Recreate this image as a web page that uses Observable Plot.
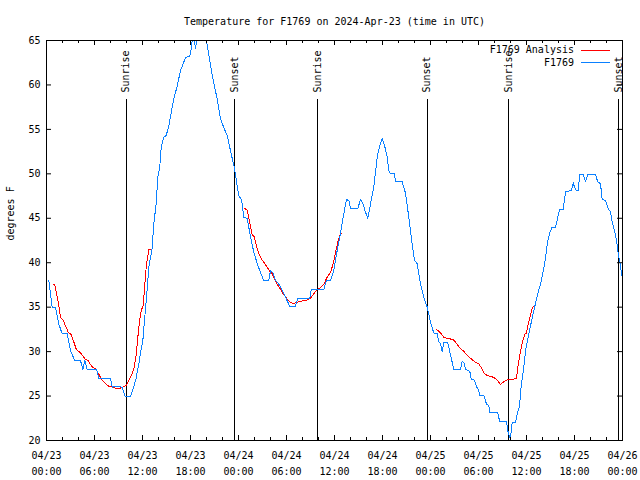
<!DOCTYPE html>
<html><head><meta charset="utf-8">
<script src="https://cdn.jsdelivr.net/npm/d3@7"></script>
<script src="https://cdn.jsdelivr.net/npm/@observablehq/plot@0.6"></script>
<style>
body{margin:0;background:#fff}
#chart{position:relative;width:640px;height:480px}
</style>
</head><body><div id="chart"></div>
<script>
// ---- data ----
const titleText = "Temperature for F1769 on 2024-Apr-23 (time in UTC)";
const yLabel = "degrees F";
const START = "2024-04-23T00:00Z";
const END = "2024-04-26T00:00Z";
// observed station temps: hours since START, degrees F
const obsHours = [0.29,0.71,1.13,1.54,1.96,2.59,3.00,3.54,4.25,4.54,4.79,5.09,6.25,6.54,8.00,8.21,8.84,9.46,9.79,10.50,10.91,11.20,11.54,11.75,12.04,12.25,12.50,12.79,13.00,13.21,13.41,13.71,13.91,14.16,14.34,14.66,14.96,15.29,15.59,15.91,16.34,16.75,17.09,17.38,17.91,18.09,18.25,18.45,18.62,18.85,19.20,19.70,20.00,20.50,20.84,21.34,21.75,22.16,22.59,23.00,23.50,24.04,24.38,24.66,25.09,25.50,25.91,26.34,26.75,27.16,27.79,28.00,28.34,28.62,29.04,29.46,29.88,30.41,31.12,31.41,32.91,33.09,34.66,35.00,35.50,35.91,36.34,36.75,37.16,37.50,37.79,38.00,38.91,39.25,39.59,39.79,40.16,40.50,40.91,41.34,41.66,41.96,42.25,42.59,42.79,43.00,43.50,43.62,44.46,44.88,45.29,45.71,46.00,46.34,46.75,47.16,47.59,48.00,48.41,48.84,49.04,49.25,49.46,49.66,50.16,50.41,50.71,50.91,51.75,51.96,52.16,52.38,52.91,53.09,53.50,53.75,53.91,54.16,54.66,55.00,55.29,55.41,56.41,56.66,57.50,57.66,57.90,58.10,58.20,58.62,58.84,59.12,59.34,59.59,59.88,60.16,60.50,60.84,61.12,61.41,61.75,62.04,62.34,62.59,62.88,63.21,63.62,63.84,64.12,64.59,64.88,65.59,65.84,66.00,66.21,66.46,66.66,67.09,67.38,67.66,68.62,68.91,69.25,69.46,69.88,70.21,70.50,70.71,71.00,71.25,71.41,71.54,71.75,71.88];
const obsTemps = [38.0,35.0,35.0,33.1,32.0,32.0,30.1,29.0,29.0,28.0,29.0,28.0,28.0,27.0,27.0,26.0,26.1,26.0,25.0,25.0,26.0,27.0,28.6,29.9,31.2,33.5,36.1,39.5,40.6,41.6,44.4,46.6,49.6,50.8,53.0,54.1,54.3,55.4,56.9,58.4,59.9,61.6,62.4,63.1,63.2,64.1,65.3,65.3,64.1,65.3,66.0,66.0,65.0,62.2,60.5,58.4,56.2,55.2,54.3,52.6,50.6,47.5,47.1,45.1,45.0,42.9,41.2,39.9,38.9,38.0,38.0,39.1,38.8,38.0,37.6,36.9,36.1,35.1,35.1,36.0,36.0,37.0,37.0,38.0,38.0,39.1,41.4,43.3,45.5,47.1,47.0,46.1,46.1,47.1,46.6,45.9,45.0,46.6,48.5,51.9,53.2,54.0,53.2,51.9,50.4,50.0,50.0,49.1,49.1,47.8,45.1,42.1,40.3,39.9,37.6,36.1,35.0,33.3,32.1,32.0,31.1,30.9,30.0,31.0,31.0,30.0,28.8,28.0,28.0,28.9,28.8,28.0,27.8,26.9,26.8,26.0,25.9,25.1,25.1,24.1,23.9,23.1,23.1,22.1,22.1,21.1,20.3,21.0,22.0,22.0,23.0,23.8,26.2,27.7,30.1,31.4,32.9,34.3,35.4,36.5,37.6,38.8,40.3,42.1,43.3,44.0,44.0,44.8,46.0,46.0,48.0,48.1,49.0,48.5,48.1,48.1,49.9,49.9,49.1,49.9,49.9,49.1,48.9,47.1,47.0,46.1,45.7,44.6,43.6,42.5,41.4,40.6,39.7,38.6];
// analysis temps (null = gap between analysis runs)
const anaHours = [0.79,1.04,1.25,1.54,1.75,2.04,2.38,2.71,3.09,3.41,3.75,4.16,4.46,4.88,5.21,5.50,5.79,6.13,6.46,6.96,7.38,7.79,8.34,8.75,9.25,9.66,10.00,10.29,10.59,10.91,11.21,11.46,11.63,11.84,12.09,12.29,12.50,12.79,13.09,
  null,
  24.79,25.09,25.38,25.71,25.91,26.25,26.54,26.88,27.29,27.59,27.91,28.21,28.54,28.96,29.34,29.66,30.09,30.50,30.91,31.34,31.96,32.59,33.00,33.41,33.84,34.25,34.66,35.09,35.50,35.84,36.13,36.41,36.66,36.88,
  null,
  48.75,49.04,49.34,49.66,50.09,50.59,50.91,51.25,51.66,52.09,52.46,52.79,53.21,53.63,54.04,54.34,54.66,55.09,55.59,56.00,56.41,56.75,57.09,57.50,57.79,58.34,58.75,58.91,59.16,59.46,59.75,60.00,60.21,60.50,60.75,60.91];
const anaTemps = [37.5,37.5,36.5,35.2,33.8,33.6,32.9,32.2,31.9,31.1,30.2,29.95,29.6,29.1,29.0,28.55,28.2,28.1,27.6,26.75,26.4,26.1,26.05,25.8,25.9,26.05,26.2,26.75,27.3,28.0,29.6,32.0,33.5,34.6,35.2,37.6,39.9,41.45,41.45,
  null,
  46.1,45.9,44.6,43.1,43.05,41.9,41.0,40.4,39.9,39.5,39.05,38.75,38.1,37.4,36.9,36.4,35.9,35.55,35.4,35.55,35.7,35.8,36.0,36.5,37.0,37.2,37.55,38.4,38.9,39.9,41.2,42.3,43.1,43.3,
  null,
  32.45,32.3,32.0,31.6,31.5,31.4,31.3,30.9,30.4,30.1,29.7,29.4,29.1,28.8,28.6,28.2,27.6,27.3,27.2,27.05,26.7,26.3,26.55,26.8,26.9,26.9,26.95,28.25,29.6,30.9,31.9,32.1,33.1,34.1,35.0,35.05];
const sunriseTimes = ["2024-04-23T09:57Z","2024-04-24T09:51Z","2024-04-25T09:47Z"];
const sunsetTimes = ["2024-04-23T23:33Z","2024-04-24T23:35Z","2024-04-25T23:33Z"];
const yTicks = [20,25,30,35,40,45,50,55,60,65];
const seriesNames = ["F1769 Analysis","F1769"];
const seriesColors = ["#ff0000","#0a80ff"];

// ---- build ----
const t0 = Date.parse(START);
const toDate = h => h == null ? null : new Date(t0 + h * 3600000);
const obs = obsHours.map((h, i) => ({t: toDate(h), v: obsTemps[i]}));
const ana = anaHours.map((h, i) => ({t: toDate(h), v: anaTemps[i]}));
const sun = [
  ...sunriseTimes.map(s => ({t: new Date(s), label: "Sunrise"})),
  ...sunsetTimes.map(s => ({t: new Date(s), label: "Sunset"}))
];
const d0 = new Date(START), d1 = new Date(END);
const majorX = d3.utcHour.every(6).range(d0, new Date(+d1 + 1));
const minorX = d3.utcHour.every(2).range(d0, d1).filter(d => d.getUTCHours() % 6 !== 0);
const fmt = d3.utcFormat("%m/%d\n%H:%M");
const FONT = 10;

const chart = Plot.plot({
  width: 640, height: 480,
  marginLeft: 46, marginRight: 18, marginTop: 40, marginBottom: 40,
  style: {fontFamily: "'DejaVu Sans Mono', monospace", fontSize: "10px", background: "#fff", color: "#000"},
  x: {type: "utc", domain: [d0, d1], axis: null},
  y: {domain: [20, 65], axis: null},
  marks: [
    // sunrise / sunset markers
    Plot.ruleX(sun, {x: "t", stroke: "#000", strokeWidth: 1, insetTop: 59, shapeRendering: "crispEdges"}),
    Plot.text(sun, {x: "t", text: "label", frameAnchor: "top", dy: 52, rotate: -90, textAnchor: "start", lineAnchor: "middle", fontSize: FONT, fill: "#000"}),
    // series
    Plot.line(ana, {x: "t", y: "v", stroke: seriesColors[0], strokeWidth: 1, clip: true, shapeRendering: "crispEdges"}),
    Plot.line(obs, {x: "t", y: "v", stroke: seriesColors[1], strokeWidth: 1, clip: true, shapeRendering: "crispEdges"}),
    // frame and inward ticks
    Plot.frame({stroke: "#000", strokeWidth: 1, shapeRendering: "crispEdges"}),
    Plot.tickX(majorX, {x: d => d, insetTop: 395, stroke: "#000"}),
    Plot.tickX(majorX, {x: d => d, insetBottom: 395, stroke: "#000"}),
    Plot.tickX(minorX, {x: d => d, insetTop: 397, stroke: "#000"}),
    Plot.tickX(minorX, {x: d => d, insetBottom: 397, stroke: "#000"}),
    Plot.tickY(yTicks, {y: d => d, insetRight: 571, stroke: "#000"}),
    Plot.tickY(yTicks, {y: d => d, insetLeft: 571, stroke: "#000"}),
    // tick labels
    Plot.text(majorX, {x: d => d, text: d => fmt(d), frameAnchor: "bottom", dy: 7, lineAnchor: "top", lineHeight: 1.6, fontSize: FONT, fill: "#000"}),
    Plot.text(yTicks, {y: d => d, text: d => String(d), frameAnchor: "left", dx: -6, textAnchor: "end", fontSize: FONT, fill: "#000"}),
    // title and axis label
    Plot.text([titleText], {frameAnchor: "top", dy: -23, text: d => d, fontSize: FONT, fill: "#000"}),
    Plot.text([yLabel], {frameAnchor: "left", dx: -36, rotate: -90, text: d => d, fontSize: FONT, fill: "#000"})
  ]
});
document.getElementById("chart").appendChild(chart);

// legend (top-right, inside frame, drawn over the markers like the original)
const svg = d3.select(chart);
const lg = svg.append("g").attr("font-family", "'DejaVu Sans Mono', monospace").attr("font-size", 10);
seriesNames.forEach((name, i) => {
  const y = 50 + i * 12.7;
  lg.append("text").attr("x", 574).attr("y", y).attr("dy", "0.32em").attr("text-anchor", "end").attr("fill", "#000").text(name);
  lg.append("line").attr("x1", 581).attr("x2", 610).attr("y1", y).attr("y2", y).attr("stroke", seriesColors[i]).attr("stroke-width", 1).attr("shape-rendering", "crispEdges");
});
</script>
</body></html>
